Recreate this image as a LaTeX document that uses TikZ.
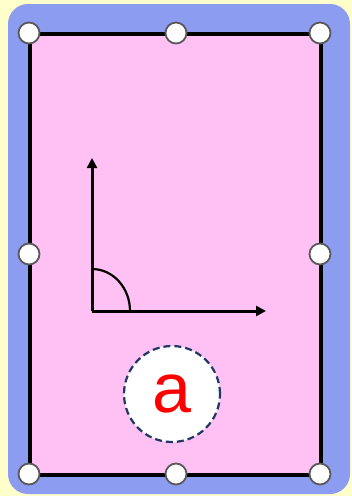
\documentclass[tikz,border=0pt]{standalone}
\usepackage{fontspec}
\newfontfamily\labelfont{Liberation Sans}
\definecolor{bgyellow}{HTML}{FFFFCC}
\definecolor{frameblue}{HTML}{8C9CF0}
\definecolor{cardpink}{HTML}{FFC0F4}
\definecolor{dashnavy}{HTML}{1F3864}
\usetikzlibrary{arrows.meta}
\tikzset{
  handle/.style={circle,draw=black!65,fill=white,line width=1.8pt,minimum size=21pt,inner sep=0pt},
  axisline/.style={line width=3pt,-{Triangle[length=10pt,width=10pt]}},
  badge/.style={circle,draw=dashnavy,fill=white,line width=2.2pt,dash pattern=on 7pt off 4pt,minimum size=96pt,inner sep=0pt,text=red,font=\labelfont\fontsize{70}{70}\selectfont}
}
\begin{document}
\begin{tikzpicture}[x=1pt,y=-1pt]
\useasboundingbox (0,0) rectangle (352,496);
\fill[bgyellow] (0,0) rectangle (352,496);
\fill[frameblue,rounded corners=20pt] (8,4) rectangle (350,494);
\draw[fill=cardpink,line width=4pt] (30,34) rectangle (321,475);
\coordinate (o) at (92,311);
\coordinate (ytip) at (92,158);
\coordinate (xtip) at (266,311);
\draw[axisline] (o) -- (ytip);
\draw[axisline] (o) -- (xtip);
\draw[line width=2.2pt] (130,311) arc[start angle=0,end angle=-90,x radius=38,y radius=42];
\node[badge] (a) at (172,394) {a};
\node[handle] (h1) at (29,33) {};
\node[handle] (h2) at (176,33) {};
\node[handle] (h3) at (320,33) {};
\node[handle] (h4) at (29,254) {};
\node[handle] (h5) at (320,254) {};
\node[handle] (h6) at (29,474) {};
\node[handle] (h7) at (176,474) {};
\node[handle] (h8) at (320,474) {};
\end{tikzpicture}
\end{document}
